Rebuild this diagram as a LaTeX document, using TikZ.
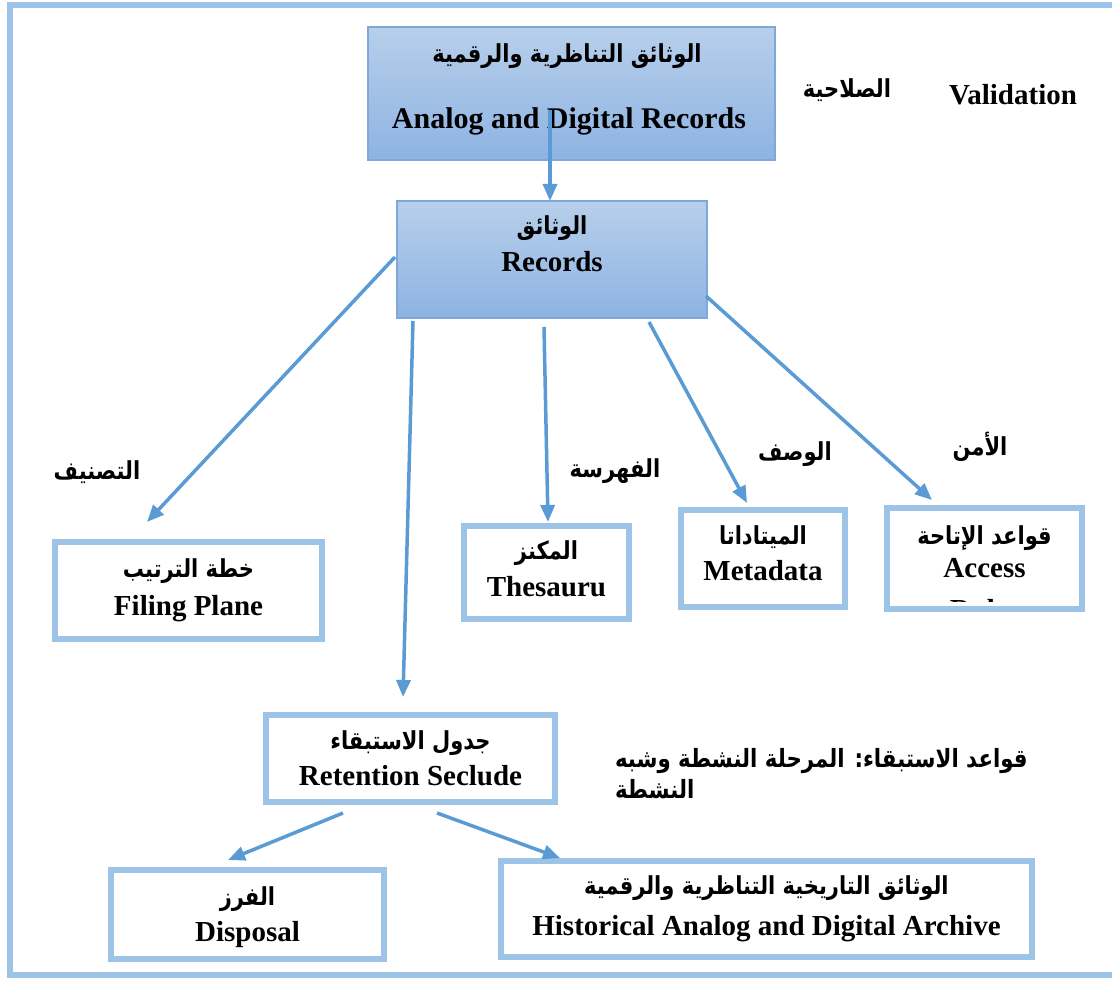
\documentclass[tikz,border=0pt]{standalone}
\usepackage{graphicx}
\usepackage{fontspec}
\setmainfont{Liberation Serif}
\newfontfamily\arfont[Script=Arabic]{DejaVu Sans}
\TeXXeTstate=1
\usetikzlibrary{arrows.meta}
\definecolor{boxblue}{HTML}{9DC3E6}
\definecolor{arrblue}{HTML}{5B9BD5}
\definecolor{gtop}{HTML}{B7CFEB}
\definecolor{gbot}{HTML}{8EB3E2}
\definecolor{gedge}{HTML}{7FA8DA}
\newcommand\artxt[2][21]{\scalebox{1}[1.18]{\arfont\bfseries\fontsize{#1}{#1}\selectfont\beginR #2\endR}}
\newcommand\entxt[2][29]{{\bfseries\fontsize{#1}{34}\selectfont #2}}
\tikzset{
  gbox/.style={draw=gedge, line width=1.2pt, top color=gtop, bottom color=gbot, inner sep=0pt},
  wbox/.style={draw=boxblue, line width=6pt, fill=white, inner sep=0pt},
  lbl/.style={inner sep=0pt, outer sep=0pt, anchor=base},
  arr/.style={draw=arrblue, line width=3.5pt, -{Triangle[length=17pt,width=14pt]}},
  frame/.style={draw=boxblue, line width=6pt}
}
\begin{document}
\begin{tikzpicture}[x=1pt,y=-1pt]
\useasboundingbox (0,0) rectangle (1112,981);
\draw[frame] (1112,5) -- (10,5) -- (10,975) -- (1112,975);

% boxes
\node[gbox, minimum width=407pt, minimum height=133pt] (top) at (571.5,93.5) {};
\node[gbox, minimum width=310pt, minimum height=117pt] (rec) at (552,259.5) {};
\node[wbox, minimum width=267pt, minimum height=97pt] (fil) at (188.5,590.5) {};
\node[wbox, minimum width=165pt, minimum height=93pt] (the) at (546.5,572.5) {};
\node[wbox, minimum width=164pt, minimum height=97pt] (met) at (763,558.5) {};
\node[wbox, minimum width=195pt, minimum height=101pt] (acc) at (984.5,558.5) {};
\node[wbox, minimum width=289pt, minimum height=87pt] (ret) at (410.5,758.5) {};
\node[wbox, minimum width=273pt, minimum height=89pt] (dis) at (247.5,914.5) {};
\node[wbox, minimum width=531pt, minimum height=96pt] (his) at (766.5,909) {};

% texts in boxes
\node[lbl] (topA) at (567,63) {\artxt{الوثائق التناظرية والرقمية}};
\node[lbl] (topE) at (569,129) {\entxt[30]{Analog and Digital Records}};
\node[lbl] (recA) at (552,235) {\artxt{الوثائق}};
\node[lbl] (recE) at (552,272) {\entxt{Records}};
\node[lbl] (filA) at (188.5,577) {\artxt{خطة الترتيب}};
\node[lbl] (filE) at (188.5,615) {\entxt{Filing Plane}};
\node[lbl] (theA) at (546.5,559) {\artxt{المكنز}};
\node[lbl] (theE) at (546.5,596) {\entxt{Thesauru}};
\node[lbl] (metA) at (763,544) {\artxt{الميتاداتا}};
\node[lbl] (metE) at (763,580) {\entxt{Metadata}};
\node[lbl] (accA) at (984.5,544) {\artxt{قواعد الإتاحة}};
\node[lbl] (accE) at (984.5,577) {\entxt{Access}};
\begin{scope}
\clip (890,511) rectangle (1079,601);
\node[lbl] (accR) at (984.5,619) {\entxt{Rules}};
\end{scope}
\node[lbl] (retA) at (410.5,749) {\artxt{جدول الاستبقاء}};
\node[lbl] (retE) at (410.5,785) {\entxt{Retention Seclude}};
\node[lbl] (disA) at (247.5,905) {\artxt{الفرز}};
\node[lbl] (disE) at (247.5,941) {\entxt{Disposal}};
\node[lbl] (hisA) at (766.5,894) {\artxt{الوثائق التاريخية التناظرية والرقمية}};
\node[lbl] (hisE) at (766.5,935) {\entxt{Historical Analog and Digital Archive}};

% free labels
\node[lbl] (salA) at (847,98) {\artxt{الصلاحية}};
\node[lbl] (valE) at (1013,105) {\entxt{Validation}};
\node[lbl] (clsA) at (97,480) {\artxt{التصنيف}};
\node[lbl] (idxA) at (615,478) {\artxt{الفهرسة}};
\node[lbl] (dscA) at (795,461) {\artxt{الوصف}};
\node[lbl] (secA) at (980,456) {\artxt{الأمن}};
\node[lbl, anchor=base west] (rul1) at (615,767) {\artxt[21.3]{قواعد الاستبقاء: المرحلة النشطة وشبه}};
\node[lbl, anchor=base west] (rul2) at (615,798) {\artxt[21.3]{النشطة}};

% connector end points
\coordinate (s0) at (550,110);
\coordinate (t0) at (550,201);
\coordinate (s1) at (395,257);
\coordinate (t1) at (147,522);
\coordinate (s2) at (413,321);
\coordinate (t2) at (403,697);
\coordinate (s3) at (544,327);
\coordinate (t3) at (548,522);
\coordinate (s4) at (649,322);
\coordinate (t4) at (747,503);
\coordinate (s5) at (706,296);
\coordinate (t5) at (932,500);
\coordinate (s6) at (343,813);
\coordinate (t6) at (228,860);
\coordinate (s7) at (437,813);
\coordinate (t7) at (560,858);

\draw[arr] (s0) -- (t0);
\draw[arr] (s1) -- (t1);
\draw[arr] (s2) -- (t2);
\draw[arr] (s3) -- (t3);
\draw[arr] (s4) -- (t4);
\draw[arr] (s5) -- (t5);
\draw[arr] (s6) -- (t6);
\draw[arr] (s7) -- (t7);
\end{tikzpicture}
\end{document}
